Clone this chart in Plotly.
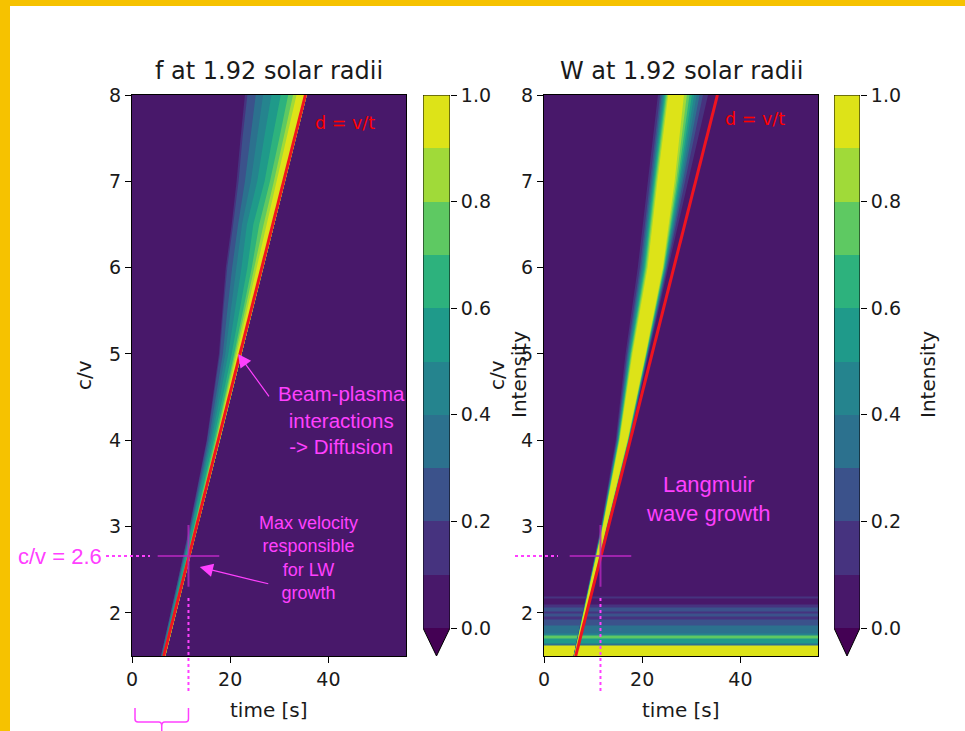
import plotly.graph_objects as go

# ------------------------------------------------------------------ data
levels = [0.0, 0.1, 0.2, 0.3, 0.4, 0.5, 0.6, 0.7, 0.8, 0.9, 1.0]
cbar_ticks = [0.0, 0.2, 0.4, 0.6, 0.8, 1.0]
cbar_ticktext = ["0.0", "0.2", "0.4", "0.6", "0.8", "1.0"]
x_ticks = [0, 20, 40]
y_ticks = [2, 3, 4, 5, 6, 7, 8]
t_range = [0.0, 55.8]
cv_range = [1.5, 8.0]
background_value = 0.05

# d = v/t line (time [s] vs c/v)
red_t = [6.46, 35.32]
red_cv = [1.5, 8.0]

# max velocity responsible for LW growth
cross_t = [11.5]
cross_cv = [2.66]

# f : electron distribution, contour level edges (time) at each c/v row
f_cv = [1.5, 2.0, 3.0, 4.0, 5.0, 5.5, 6.0, 6.5, 7.0, 7.5, 8.0]
f_front = [6.8, 9.0, 13.4, 17.9, 22.3, 24.5, 26.7, 28.9, 31.2, 33.4, 35.6]
f_edge_01 = [5.9, 7.9, 11.7, 15.2, 17.7, 18.4, 19.1, 20.3, 21.3, 22.1, 23.0]
f_edge_02 = [5.9, 7.9, 11.8, 15.3, 17.9, 18.6, 19.4, 20.6, 21.7, 22.5, 23.5]
f_edge_03 = [6.0, 8.0, 12.0, 15.6, 18.5, 19.4, 20.4, 21.6, 23.0, 24.1, 25.2]
f_edge_04 = [6.1, 8.1, 12.1, 15.9, 19.0, 20.1, 21.3, 22.4, 24.2, 25.4, 26.7]
f_edge_05 = [6.2, 8.2, 12.3, 16.2, 19.6, 21.0, 22.3, 23.4, 25.5, 26.9, 28.4]
f_edge_06 = [6.2, 8.4, 12.6, 16.6, 20.3, 21.9, 23.5, 24.7, 27.0, 28.6, 30.3]
f_edge_07 = [6.3, 8.5, 12.7, 16.9, 20.8, 22.6, 24.4, 25.9, 28.1, 30.0, 31.8]
f_edge_08 = [6.4, 8.5, 12.8, 17.1, 21.1, 23.0, 24.9, 26.8, 28.9, 30.8, 32.8]
f_edge_09 = [6.4, 8.6, 12.9, 17.2, 21.4, 23.4, 25.4, 27.4, 29.5, 31.5, 33.5]

# W : Langmuir wave intensity, rising (left) and falling (right) level edges
w_cv = [1.5, 2.0, 3.0, 4.0, 5.0, 6.0, 7.0, 8.0]
w_left_01 = [6.00, 7.90, 11.60, 14.60, 16.60, 19.10, 21.10, 23.20]
w_left_02 = [6.03, 7.94, 11.68, 14.77, 16.89, 19.52, 21.52, 23.64]
w_left_03 = [6.05, 7.97, 11.74, 14.88, 17.09, 19.80, 21.80, 23.94]
w_left_04 = [6.07, 7.99, 11.79, 14.98, 17.26, 20.04, 22.04, 24.19]
w_left_05 = [6.09, 8.02, 11.83, 15.06, 17.41, 20.25, 22.25, 24.41]
w_left_06 = [6.10, 8.03, 11.87, 15.14, 17.54, 20.44, 22.44, 24.61]
w_left_07 = [6.12, 8.05, 11.91, 15.22, 17.68, 20.64, 22.64, 24.82]
w_left_08 = [6.13, 8.08, 11.95, 15.30, 17.83, 20.86, 22.86, 25.05]
w_left_09 = [6.15, 8.10, 12.00, 15.40, 18.00, 21.10, 23.10, 25.30]
w_right_01 = [6.50, 8.70, 13.00, 17.50, 21.30, 25.30, 29.30, 33.40]
w_right_02 = [6.47, 8.66, 12.94, 17.40, 21.17, 25.07, 28.73, 32.37]
w_right_03 = [6.45, 8.63, 12.90, 17.33, 21.09, 24.92, 28.36, 31.69]
w_right_04 = [6.43, 8.61, 12.86, 17.27, 21.02, 24.78, 28.03, 31.10]
w_right_05 = [6.41, 8.59, 12.83, 17.21, 20.96, 24.67, 27.75, 30.58]
w_right_06 = [6.40, 8.57, 12.80, 17.17, 20.90, 24.56, 27.49, 30.12]
w_right_07 = [6.38, 8.55, 12.77, 17.12, 20.84, 24.45, 27.22, 29.63]
w_right_08 = [6.37, 8.52, 12.74, 17.06, 20.77, 24.33, 26.92, 29.09]
w_right_09 = [6.35, 8.50, 12.70, 17.00, 20.70, 24.20, 26.60, 28.50]

# W : horizontal bands near the bottom (c/v edges and intensity)
w_stripe_edges = [1.50, 1.62, 1.65, 1.70, 1.74, 1.76, 1.85, 1.92, 1.96,
                  1.99, 2.02, 2.06, 2.10, 2.17, 2.19]
w_stripe_values = [0.95, 0.35, 0.50, 0.75, 0.45, 0.35, 0.25, 0.15,
                   0.25, 0.15, 0.22, 0.15, 0.05, 0.12]

f_edges = [f_edge_01, f_edge_02, f_edge_03, f_edge_04, f_edge_05,
           f_edge_06, f_edge_07, f_edge_08, f_edge_09]
w_lefts = [w_left_01, w_left_02, w_left_03, w_left_04, w_left_05,
           w_left_06, w_left_07, w_left_08, w_left_09]
w_rights = [w_right_01, w_right_02, w_right_03, w_right_04, w_right_05,
            w_right_06, w_right_07, w_right_08, w_right_09]

# ------------------------------------------------------------------ style
LEVEL_COLORS = ["#48186a", "#46337f", "#3b528b", "#2c718e", "#25848e",
                "#1f9a8a", "#2db27d", "#5ec962", "#a0da39", "#dde318"]
UNDER_COLOR = "#440154"
MAG = "#ff40ff"
RED = "#ee1420"
TXT = "#1a1a1a"
DV = "DejaVu Sans"
AR = "Liberation Sans, Arial"

W_PX, H_PX = 965, 731


def px(x):
    return x / W_PX


def py(y):
    return 1 - y / H_PX


PT, PB = 95, 656           # plot top / bottom (pixels)
LX = (132, 406)            # left panel
RX = (544, 818)            # right panel
CL = (423, 450)            # left colorbar
CR = (834, 860)            # right colorbar


def tpx(t, panel):
    return panel[0] + (panel[1] - panel[0]) * (t - t_range[0]) / (t_range[1] - t_range[0])


colorscale = []
for i, c in enumerate(LEVEL_COLORS):
    colorscale.append([i / 10, c])
    colorscale.append([(i + 1) / 10, c])


def level_color(k):
    return LEVEL_COLORS[k]


fig = go.Figure()


def add_panel(xa, ya, polys, stripes=False):
    fig.add_trace(go.Heatmap(x=t_range, y=cv_range, z=[[background_value]],
                             colorscale=colorscale, zmin=0, zmax=1, showscale=False,
                             hoverinfo="skip", xaxis=xa, yaxis=ya))
    if stripes:
        fig.add_trace(go.Heatmap(x=t_range, y=w_stripe_edges,
                                 z=[[v] for v in w_stripe_values],
                                 colorscale=colorscale, zmin=0, zmax=1, showscale=False,
                                 hoverinfo="skip", xaxis=xa, yaxis=ya))
    for k, (xs, ys) in enumerate(polys, start=1):
        fig.add_trace(go.Scatter(x=xs, y=ys, mode="lines", fill="toself",
                                 fillcolor=level_color(k),
                                 line=dict(width=0, color=level_color(k)),
                                 hoverinfo="skip", showlegend=False,
                                 xaxis=xa, yaxis=ya))
    fig.add_trace(go.Scatter(x=red_t, y=red_cv, mode="lines",
                             line=dict(color=RED, width=3), hoverinfo="skip",
                             showlegend=False, xaxis=xa, yaxis=ya))
    fig.add_trace(go.Scatter(x=cross_t, y=cross_cv, mode="markers",
                             marker=dict(symbol="cross-thin", size=44,
                                         line=dict(width=2, color="rgba(180,40,190,0.8)")),
                             hoverinfo="skip", showlegend=False, xaxis=xa, yaxis=ya))


f_polys = []
for edge in f_edges:
    f_polys.append((edge + f_front[::-1], f_cv + f_cv[::-1]))
w_polys = []
for le, ri in zip(w_lefts, w_rights):
    w_polys.append((le + ri[::-1], w_cv + w_cv[::-1]))

add_panel("x", "y", f_polys)
add_panel("x2", "y2", w_polys, stripes=True)


def add_cbar(xa, ya):
    fig.add_trace(go.Heatmap(x=[0, 1], y=levels,
                             z=[[(levels[i] + levels[i + 1]) / 2] for i in range(len(levels) - 1)],
                             colorscale=colorscale, zmin=0, zmax=1, showscale=False,
                             hoverinfo="skip", xaxis=xa, yaxis=ya))
    fig.add_trace(go.Scatter(x=[0, 1, 0.5, 0], y=[0, 0, -0.0525, 0], mode="lines",
                             fill="toself", fillcolor=UNDER_COLOR,
                             line=dict(width=0, color=UNDER_COLOR), hoverinfo="skip",
                             showlegend=False, xaxis=xa, yaxis=ya))
    fig.add_trace(go.Scatter(x=[0, 0, 1, 1, 0.5, 0], y=[0, 1, 1, 0, -0.0525, 0],
                             mode="lines", line=dict(width=1, color="#000"),
                             hoverinfo="skip", showlegend=False, xaxis=xa, yaxis=ya,
                             cliponaxis=False))


add_cbar("x3", "y3")
add_cbar("x4", "y4")

tickfont = dict(family=DV, size=19, color=TXT)
ydom = [py(PB), py(PT)]


def main_x(dom, anchor):
    return dict(domain=[px(dom[0]), px(dom[1])], range=t_range, tickvals=x_ticks,
                ticks="outside", ticklen=6, tickcolor="#000", tickfont=tickfont,
                showline=True, mirror=True, linecolor="#000", linewidth=1,
                showgrid=False, zeroline=False, anchor=anchor, fixedrange=True,
                automargin=False)


def main_y(anchor):
    return dict(domain=ydom, range=cv_range, tickvals=y_ticks,
                ticks="outside", ticklen=6, tickcolor="#000", tickfont=tickfont,
                showline=True, mirror=True, linecolor="#000", linewidth=1,
                showgrid=False, zeroline=False, anchor=anchor, fixedrange=True,
                automargin=False)


def cb_x(dom, anchor):
    return dict(domain=[px(dom[0]), px(dom[1])], range=[0, 1], visible=False,
                anchor=anchor, fixedrange=True, automargin=False)


def cb_y(anchor):
    return dict(domain=ydom, range=[-0.0525, 1.0], side="right", tickvals=cbar_ticks,
                ticktext=cbar_ticktext, ticks="outside", ticklen=6, tickcolor="#000",
                tickfont=tickfont, showline=False, showgrid=False, zeroline=False,
                anchor=anchor, fixedrange=True, automargin=False)


annotations = []


def txt(x, y, text, size, color=TXT, family=DV, angle=0, xanchor="center", yanchor="middle"):
    annotations.append(dict(x=x, y=y, xref="paper", yref="paper", text=text,
                            showarrow=False, textangle=angle, xanchor=xanchor,
                            yanchor=yanchor, align="center",
                            font=dict(family=family, size=size, color=color)))


# titles and axis labels
txt(px(269), py(71), "f at 1.92 solar radii", 24)
txt(px(681), py(71), "W at 1.92 solar radii", 24)
txt(px(269), py(710), "time [s]", 20)
txt(px(681), py(710), "time [s]", 20)
txt(px(84), py(375), "c/v", 20, angle=-90)
txt(px(497), py(375), "c/v", 20, angle=-90)
txt(px(519), py(375), "Intensity", 20, angle=-90)
txt(px(928), py(375), "Intensity", 20, angle=-90)

# red labels
txt(px(313), py(123), "d = v/t", 17.5, color="#ff0000", xanchor="left")
txt(px(723), py(119), "d = v/t", 17.5, color="#ff0000", xanchor="left")

# magenta notes
txt(px(341), py(420), "Beam-plasma<br>interactions<br>-&gt; Diffusion", 20.5, color=MAG, family=AR)
txt(px(308), py(558), "Max velocity<br>responsible<br>for LW<br>growth", 18, color=MAG, family=AR)
txt(px(104), py(556), "c/v = 2.6", 22, color=MAG, family=AR, xanchor="right")
txt(px(708), py(499), "Langmuir<br>wave growth", 22, color=MAG, family=AR)

# arrows
annotations.append(dict(x=21.6, y=5.0, xref="x", yref="y", ax=32, ay=44, text="",
                        showarrow=True, arrowhead=2, arrowsize=2.2, arrowwidth=1.2,
                        arrowcolor=MAG))
annotations.append(dict(x=13.8, y=2.53, xref="x", yref="y", ax=70, ay=17, text="",
                        showarrow=True, arrowhead=2, arrowsize=2.2, arrowwidth=1.2,
                        arrowcolor=MAG))

shapes = []
# yellow frame
shapes.append(dict(type="rect", xref="paper", yref="paper", x0=0, x1=1, y0=py(6), y1=1,
                   fillcolor="#f6c200", line=dict(width=0), layer="above"))
shapes.append(dict(type="rect", xref="paper", yref="paper", x0=0, x1=px(10), y0=0, y1=1,
                   fillcolor="#f6c200", line=dict(width=0), layer="above"))

dot = dict(color=MAG, width=2, dash="dot")
cy = py(556)
lx = px(tpx(cross_t[0], LX))
rx = px(tpx(cross_t[0], RX))
shapes.append(dict(type="line", xref="paper", yref="paper", x0=px(106), x1=px(150), y0=cy, y1=cy, line=dot))
shapes.append(dict(type="line", xref="paper", yref="paper", x0=lx, x1=lx, y0=py(598), y1=py(693), line=dot))
shapes.append(dict(type="line", xref="paper", yref="paper", x0=px(515), x1=px(558), y0=cy, y1=cy, line=dot))
shapes.append(dict(type="line", xref="paper", yref="paper", x0=rx, x1=rx, y0=py(598), y1=py(693), line=dot))

# brace under the left axis
bx0, bx1 = 135, tpx(cross_t[0], LX)
bm = (bx0 + bx1) / 2


def P(x, y):
    return f"{px(x):.5f},{py(y):.5f}"


brace = (f"M {P(bx0, 708)} L {P(bx0, 719)} Q {P(bx0, 722)} {P(bx0 + 3, 722)} "
         f"L {P(bm - 3, 722)} Q {P(bm, 722)} {P(bm, 726)} L {P(bm, 731)} "
         f"M {P(bm, 726)} Q {P(bm, 722)} {P(bm + 3, 722)} "
         f"L {P(bx1 - 3, 722)} Q {P(bx1, 722)} {P(bx1, 719)} L {P(bx1, 708)}")
shapes.append(dict(type="path", xref="paper", yref="paper", path=brace,
                   line=dict(color=MAG, width=1.5)))

fig.update_layout(
    template="none",
    width=W_PX, height=H_PX,
    margin=dict(l=0, r=0, t=0, b=0, pad=0, autoexpand=False),
    paper_bgcolor="#ffffff", plot_bgcolor="#ffffff", showlegend=False,
    xaxis=main_x(LX, "y"), yaxis=main_y("x"),
    xaxis2=main_x(RX, "y2"), yaxis2=main_y("x2"),
    xaxis3=cb_x(CL, "y3"), yaxis3=cb_y("x3"),
    xaxis4=cb_x(CR, "y4"), yaxis4=cb_y("x4"),
    annotations=annotations, shapes=shapes,
)

fig.write_html(
    "out.html", config={"displayModeBar": False},
    post_script=("document.documentElement.style.margin='0px';"
                 "document.body.style.margin='0px';"
                 "document.body.style.padding='0px';"
                 "document.body.style.overflow='hidden';"
                 "var d=document.getElementById('{plot_id}');"
                 "d.style.position='fixed';d.style.top='0px';d.style.left='0px';"),
)
